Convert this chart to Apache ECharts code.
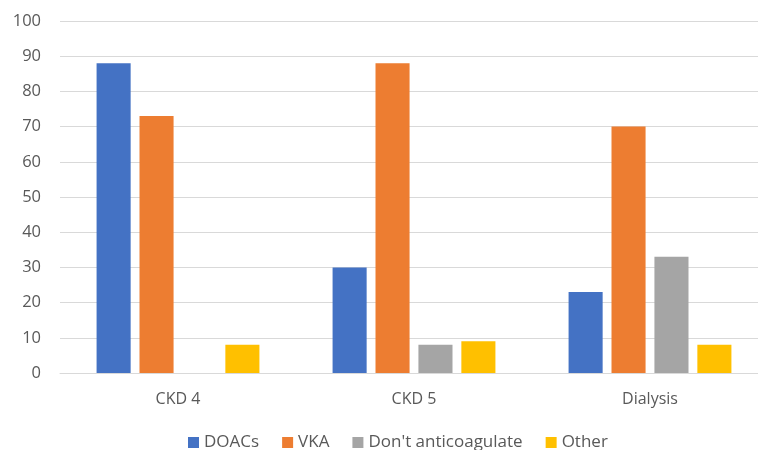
<!DOCTYPE html>
<html>
<head>
<meta charset="utf-8">
<script src="https://cdn.jsdelivr.net/npm/echarts@6/dist/echarts.min.js"></script>
<style>
html,body{margin:0;padding:0;background:#fff;overflow:hidden;width:758px;height:450px}
/* the plot area runs a little past the visible right edge */
#chart{width:768px;height:450px}
</style>
</head>
<body>
<div id="chart"></div>
<script>
const categories = ['CKD 4', 'CKD 5', 'Dialysis'];
const doacs = [88, 30, 23];
const vka = [73, 88, 70];
const dontAnticoagulate = [0, 8, 33];
const other = [8, 9, 8];
const yTicks = [0, 10, 20, 30, 40, 50, 60, 70, 80, 90, 100];

const font = '"Open Sans", "Liberation Sans", sans-serif';
const chart = echarts.init(document.getElementById('chart'));
const mk = (name, data, color) => ({
  name, type: 'bar', data, barGap: '26%', barCategoryGap: '31%',
  itemStyle: { color }
});
chart.setOption({
  animation: false,
  grid: { left: 60, right: 0, top: 21, bottom: 77 },
  legend: {
    top: 434, left: 188, padding: 0, itemWidth: 11, itemHeight: 11, itemGap: 23, icon: 'rect',
    textStyle: { color: '#595959', fontSize: 17, fontFamily: font }
  },
  xAxis: {
    type: 'category', data: categories,
    axisLine: { lineStyle: { color: '#d9d9d9', width: 1 } },
    axisTick: { show: false },
    axisLabel: { color: '#595959', fontSize: 16, fontFamily: font, margin: 18 }
  },
  yAxis: {
    type: 'value', min: yTicks[0], max: yTicks[yTicks.length - 1], interval: 10,
    axisLine: { show: false }, axisTick: { show: false },
    axisLabel: { color: '#595959', fontSize: 16.5, fontFamily: font, margin: 19 },
    splitLine: { lineStyle: { color: '#d9d9d9', width: 1 } }
  },
  series: [
    mk('DOACs', doacs, '#4472c4'),
    mk('VKA', vka, '#ed7d31'),
    mk("Don't anticoagulate", dontAnticoagulate, '#a5a5a5'),
    mk('Other', other, '#ffc000')
  ]
});
</script>
</body>
</html>
